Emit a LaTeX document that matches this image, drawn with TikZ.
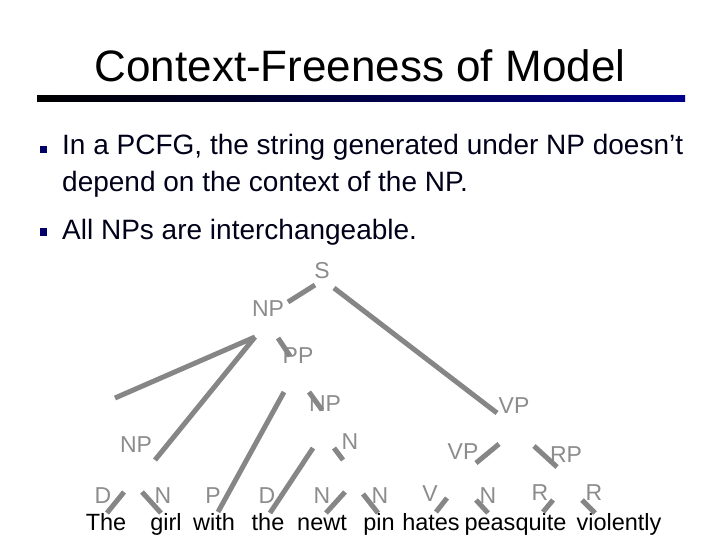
\documentclass[tikz,border=0pt]{standalone}
\usepackage{fontspec}
\setmainfont{Liberation Sans}
\begin{document}
\begin{tikzpicture}[x=1pt,y=-1pt,
  lab/.style={text=gray!90,font=\fontsize{23}{25}\selectfont,inner sep=1pt},
  word/.style={text=black,font=\fontsize{23.5}{25}\selectfont,inner sep=0pt,anchor=base},
  br/.style={draw=gray!95,line width=5pt},
  btxt/.style={anchor=west,text=black!90!blue,font=\fontsize{28}{37}\selectfont,align=left,inner sep=0pt}]
\useasboundingbox (0,0) rectangle (720,540);
\node (title) at (360,66) {\fontsize{44}{48}\selectfont Context-Freeness of Model};
\shade[left color=black,right color=blue!55!black] (37,96) rectangle (685,102);
\node[fill=blue!40!black,minimum size=7pt,inner sep=0pt] (b1) at (43,150) {};
\node[btxt,anchor=north west] (t1) at (62,134) {In a PCFG, the string generated under NP doesn’t\\depend on the context of the NP.};
\node[fill=blue!40!black,minimum size=7pt,inner sep=0pt] (b2) at (43,232) {};
\node[btxt] (t2) at (62,232) {All NPs are interchangeable.};
% labels
\node[lab] (S) at (322,271) {S};
\node[lab] (NP1) at (268,309) {NP};
\node[lab] (PP) at (298,356) {PP};
\node[lab] (NP2) at (325,404) {NP};
\node[lab] (VP1) at (514,406) {VP};
\node[lab] (NP3) at (136,445) {NP};
\node[lab] (N1) at (350,442) {N};
\node[lab] (VP2) at (463,452) {VP};
\node[lab] (RP) at (566,455) {RP};
\node[lab] (D1) at (103,496) {D};
\node[lab] (N2) at (163,496) {N};
\node[lab] (P1) at (213,496) {P};
\node[lab] (D2) at (267,496) {D};
\node[lab] (N3) at (322,496) {N};
\node[lab] (N4) at (380,496) {N};
\node[lab] (V1) at (430,494) {V};
\node[lab] (N5) at (488,496) {N};
\node[lab] (R1) at (540,493) {R};
\node[lab] (R2) at (594,493) {R};
\foreach \n/\w/\x in {w1/The/106,w2/girl/166,w3/with/214,w4/the/268,w5/newt/322,w6/pin/379,w7/hates/431,w8/peas/490,w9/quite/541,w10/violently/619}
  \node[word] (\n) at (\x,530) {\w};
\coordinate (c1) at (315,285); \coordinate (c2) at (288,302);
\coordinate (c3) at (334,288); \coordinate (c4) at (497,413);
\coordinate (c5) at (255,337); \coordinate (c6) at (115,398);
\coordinate (c7) at (155,460);
\coordinate (c8) at (278,338); \coordinate (c9) at (290,356);
\coordinate (c10) at (284,392); \coordinate (c11) at (218,512);
\coordinate (c12) at (309,392); \coordinate (c13) at (322,410);
\coordinate (c14) at (313,448); \coordinate (c15) at (270,513);
\coordinate (c16) at (334,448); \coordinate (c17) at (343,460);
\coordinate (c18) at (345,492); \coordinate (c19) at (326,513);
\coordinate (c20) at (363,494); \coordinate (c21) at (378,513);
\coordinate (c22) at (124,492); \coordinate (c23) at (107,513);
\coordinate (c24) at (142,492); \coordinate (c25) at (161,513);
\coordinate (c26) at (499,444); \coordinate (c27) at (476,463);
\coordinate (c28) at (534,446); \coordinate (c29) at (557,467);
\coordinate (c30) at (447,498); \coordinate (c31) at (436,512);
\coordinate (c32) at (476,500); \coordinate (c33) at (488,513);
\coordinate (c34) at (553,500); \coordinate (c35) at (543,512);
\coordinate (c36) at (582,500); \coordinate (c37) at (595,513);
\foreach \a/\b in {c1/c2,c3/c4,c5/c6,c5/c7,c8/c9,c10/c11,c12/c13,c14/c15,c16/c17,c18/c19,c20/c21,c22/c23,c24/c25,c26/c27,c28/c29,c30/c31,c32/c33,c34/c35,c36/c37}
  \draw[br] (\a) -- (\b);
\end{tikzpicture}
\end{document}
